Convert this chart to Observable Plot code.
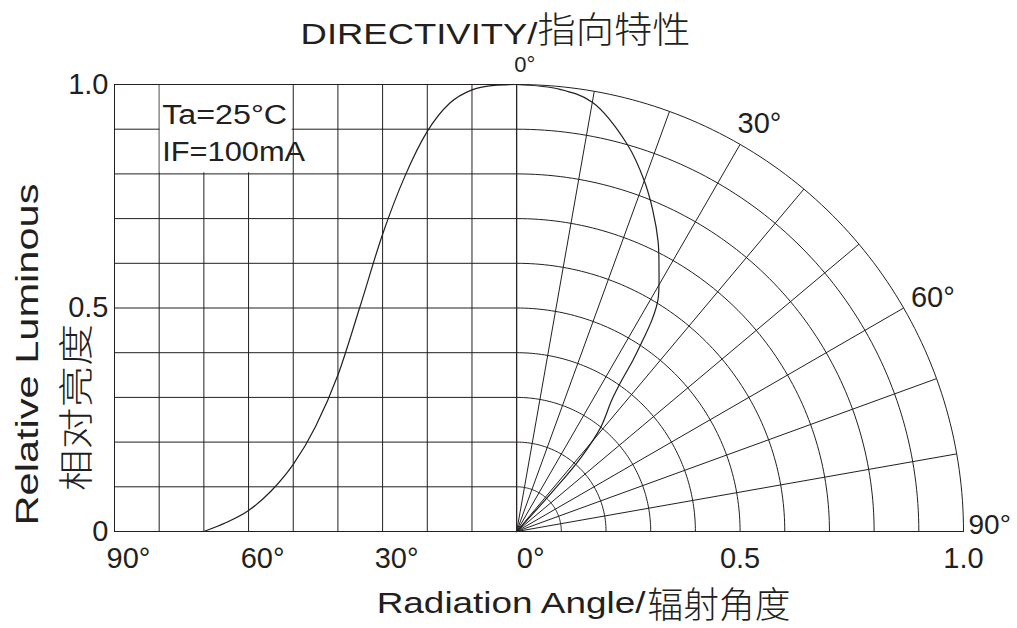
<!DOCTYPE html>
<html>
<head>
<meta charset="utf-8">
<script src="https://cdn.jsdelivr.net/npm/d3@7"></script>
<script src="https://cdn.jsdelivr.net/npm/@observablehq/plot@0.6"></script>
<style>
  html, body { margin: 0; padding: 0; background: #ffffff; }
  #chart svg { display: block; }
</style>
</head>
<body>
<div id="chart"></div>
<script>
// ---------- texts ----------
const titleLatin = "DIRECTIVITY/";
const titleCjk = "指向特性";
const xTitleLatin = "Radiation Angle/";
const xTitleCjk = "辐射角度";
const yTitleLatin = "Relative Luminous";
const yTitleCjk = "相对亮度";
const conditions = ["Ta=25°C", "IF=100mA"];

// ---------- grid ----------
const gridAngles = [-90, -80, -70, -60, -50, -40, -30, -20, -10, 0];
const gridLevels = [0.1, 0.2, 0.3, 0.4, 0.5, 0.6, 0.7, 0.8, 0.9, 1.0];
const polarRays = [0, 10, 20, 30, 40, 50, 60, 70, 80, 90];
const polarRings = [0.1, 0.2, 0.3, 0.4, 0.5, 0.6, 0.7, 0.8, 0.9, 1.0];

// ---------- tick labels ----------
const xTickValues = [-90, -60, -30, 0];
const xTickLabels = ["90°", "60°", "30°", "0°"];
const rTickValues = [0.5, 1.0];
const rTickLabels = ["0.5", "1.0"];
const yTickValues = [0, 0.5, 1.0];
const yTickLabels = ["0", "0.5", "1.0"];
const polarLabelAngles = [0, 30, 60, 90];
const polarLabelText = ["0°", "30°", "60°", "90°"];

// ---------- curves ----------
// rectangular half: angle (deg) vs relative luminous
const rectAngles = [-70, -65, -60, -55, -50, -45, -40, -35, -30, -25, -20, -15, -10, -5, 0];
const rectValues = [0, 0.020, 0.047, 0.090, 0.150, 0.235, 0.350, 0.505, 0.665, 0.795, 0.895, 0.958, 0.988, 0.998, 1.0];
// polar half: angle from axis (deg) vs radius
const polarAngles = [0, 5.6, 10, 16, 20, 23, 26, 28.2, 31.4, 32.6, 33.4, 34.2, 34.8, 35.9, 38.9, 41, 42, 42];
const polarRadii = [1.0, 0.994, 0.975, 0.90, 0.835, 0.78, 0.722, 0.674, 0.607, 0.562, 0.513, 0.463, 0.412, 0.363, 0.30, 0.22, 0.12, 0];

// ---------- build ----------
const ink = "#231f20";
const sans = "'Liberation Sans', Arial, 'Noto Sans CJK SC', sans-serif";
const cjk = "'Noto Sans CJK SC', 'Noto Sans CJK JP', sans-serif";
const deg = Math.PI / 180;
// x unit: degrees on the left half; 100 * radius on the right (polar) half
const px = (t, r) => 100 * r * Math.sin(t * deg);
const py = (t, r) => r * Math.cos(t * deg);

const arcs = polarRings.flatMap(r => d3.range(0, 90.5, 1).map(t => ({ring: r, x: px(t, r), y: py(t, r)})));
const rays = polarRays.map(t => ({x2: px(t, 1), y2: py(t, 1)}));
const rectCurve = rectAngles.map((a, i) => ({x: a, y: rectValues[i]}));
const polarCurve = polarAngles.map((t, i) => ({x: px(t, polarRadii[i]), y: py(t, polarRadii[i])}));
const xTicks = xTickValues.map((v, i) => ({v, label: xTickLabels[i]}));
const rTicks = rTickValues.map((v, i) => ({v: 100 * v, label: rTickLabels[i]}));
const yTicks = yTickValues.map((v, i) => ({v, label: yTickLabels[i]}));
const polarLabels = polarLabelAngles.map((t, i) => ({t, label: polarLabelText[i]}));

const chart = Plot.plot({
  width: 1017,
  height: 628,
  marginLeft: 114,
  marginRight: 54,
  marginTop: 84,
  marginBottom: 97,
  x: {domain: [-90, 100], axis: null},
  y: {domain: [0, 1], axis: null},
  style: {fontFamily: sans, background: "#ffffff", color: ink, overflow: "visible"},
  marks: [
    // left rectangular grid
    Plot.ruleX(gridAngles, {y1: 0, y2: 1, stroke: ink, strokeWidth: 1}),
    Plot.ruleY(gridLevels, {x1: -90, x2: 0, stroke: ink, strokeWidth: 1}),
    // white box for the test conditions
    Plot.rect([0], {x1: -80, x2: -50, y1: 0.8, y2: 1, fill: "#ffffff", inset: 1}),
    // polar grid
    Plot.line(arcs, {x: "x", y: "y", z: "ring", stroke: ink, strokeWidth: 1}),
    Plot.link(rays, {x1: 0, y1: 0, x2: "x2", y2: "y2", stroke: ink, strokeWidth: 1}),
    Plot.ruleY([0], {x1: -90, x2: 100, stroke: ink, strokeWidth: 1.2}),
    // curves
    Plot.line(rectCurve, {x: "x", y: "y", curve: "monotone-x", stroke: ink, strokeWidth: 1.2}),
    Plot.line(polarCurve, {x: "x", y: "y", curve: "catmull-rom", stroke: ink, strokeWidth: 1.2}),
    // test conditions
    Plot.text([conditions[0]], {x: -80, y: 1, text: d => d, textAnchor: "start", lineAnchor: "bottom", dx: 3, dy: 39, fontSize: 28, fill: ink}),
    Plot.text([conditions[1]], {x: -80, y: 1, text: d => d, textAnchor: "start", lineAnchor: "bottom", dx: 3, dy: 76, fontSize: 28, fill: ink}),
    // bottom tick labels
    Plot.text(xTicks, {x: "v", y: 0, text: "label", lineAnchor: "bottom", dx: 14, dy: 36, fontSize: 29, fill: ink}),
    Plot.text(rTicks, {x: "v", y: 0, text: "label", lineAnchor: "bottom", dx: 0, dy: 36, fontSize: 29, fill: ink}),
    // left tick labels
    Plot.text(yTicks, {x: -90, y: "v", text: "label", textAnchor: "end", lineAnchor: "middle", dx: -6, fontSize: 29, fill: ink}),
    // polar angle labels
    Plot.text(polarLabels.filter(d => d.t === 0), {x: d => px(d.t, 1), y: d => py(d.t, 1), text: "label", lineAnchor: "bottom", dx: 8, dy: -13, fontSize: 22, fill: ink}),
    Plot.text(polarLabels.filter(d => d.t > 0 && d.t < 90), {x: d => px(d.t, 1.06), y: d => py(d.t, 1.06), text: "label", lineAnchor: "middle", dx: 6, dy: 3, fontSize: 29, fill: ink}),
    Plot.text(polarLabels.filter(d => d.t === 90), {x: d => px(d.t, 1), y: d => py(d.t, 1), text: "label", textAnchor: "start", lineAnchor: "bottom", dx: 5, dy: 2, fontSize: 28, fill: ink}),
    // title
    Plot.text([titleLatin], {frameAnchor: "top", text: d => d, textAnchor: "end", lineAnchor: "bottom", dx: -1.5, dy: -41, fontSize: 30, fill: ink}),
    Plot.text([titleCjk], {frameAnchor: "top", text: d => d, textAnchor: "start", lineAnchor: "bottom", dx: -1.5, dy: -41.5, fontSize: 36, fontWeight: 300, fontFamily: cjk, fill: ink}),
    // x title
    Plot.text([xTitleLatin], {frameAnchor: "bottom", text: d => d, textAnchor: "end", lineAnchor: "bottom", dx: 106.5, dy: 81, fontSize: 30, fill: ink}),
    Plot.text([xTitleCjk], {frameAnchor: "bottom", text: d => d, textAnchor: "start", lineAnchor: "bottom", dx: 108.5, dy: 86, fontSize: 36, fontWeight: 300, fontFamily: cjk, fill: ink}),
    // y title
    Plot.text([yTitleLatin], {frameAnchor: "left", text: d => d, rotate: -90, textAnchor: "middle", lineAnchor: "bottom", dx: -77, dy: 46.5, fontSize: 31, fill: ink}),
    Plot.text([yTitleCjk], {frameAnchor: "left", text: d => d, rotate: -90, textAnchor: "middle", lineAnchor: "bottom", dx: -26, dy: 99.5, fontSize: 35, fontWeight: 300, fontFamily: cjk, fill: ink})
  ]
});

document.getElementById("chart").append(chart);

// horizontally widened lettering, as in the reference (glyphs scaled along the writing direction)
const stretchTo = new Map([
  [titleLatin, 237], [titleCjk, 153],
  [xTitleLatin, 269], [xTitleCjk, 143],
  [yTitleLatin, 342], [yTitleCjk, 167],
  [conditions[0], 125], [conditions[1], 143]
]);
chart.querySelectorAll("text").forEach(el => {
  if (el.children.length) return;
  const w = stretchTo.get(el.textContent);
  if (!w) return;
  const natural = el.getComputedTextLength();
  if (natural > 0) {
    const t = el.getAttribute("transform") || "";
    el.setAttribute("transform", `${t} scale(${(w / natural).toFixed(4)},1)`);
  }
});
</script>
</body>
</html>
